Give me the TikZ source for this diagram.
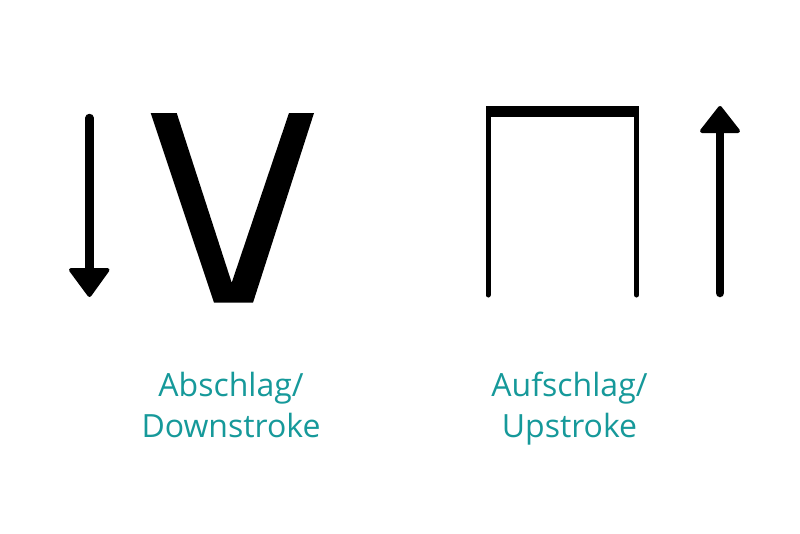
\documentclass[tikz,border=0pt]{standalone}
\usepackage{fontspec}
\setmainfont{Open Sans}
\usepackage{tikz}
\usetikzlibrary{positioning}
\definecolor{stroketeal}{RGB}{22,153,154}

\tikzset{
  bowshaft/.style={line width=8.5pt, line cap=round},
  bowhead/.style={line width=4pt, line join=round},
  bowleg/.style={line width=5pt, line cap=round},
  bowlabel/.style={text=stroketeal, font=\fontsize{32}{41}\selectfont, align=center, inner sep=0pt, anchor=north}
}

\begin{document}
\begin{tikzpicture}[x=1pt,y=-1pt]
\useasboundingbox (0,0) rectangle (800,533);

%Downstroke arrow
\coordinate (downtop) at (89.5,118);
\coordinate (downbase) at (89.5,272);
\draw[bowshaft] (downtop) -- (downbase);
\filldraw[bowhead] (71,270) -- (107.5,270) -- (89.5,295) -- cycle;

%V sign
\fill (150.7,113) -- (176.7,113) -- (231.7,282.7) -- (289,113) -- (314,113)
 -- (253,302.7) -- (214,302.7) -- cycle;

%Upstroke bracket
\fill (486,106) rectangle (639,116.5);
\coordinate (legleft) at (488,112);
\coordinate (legright) at (636.5,112);
\draw[bowleg] (legleft) -- ++(0,183);
\draw[bowleg] (legright) -- ++(0,183);

%Upstroke arrow
\coordinate (upbottom) at (720,293);
\coordinate (upbase) at (720,131);
\draw[bowshaft] (upbottom) -- (upbase);
\filldraw[bowhead] (702,131) -- (738,131) -- (720,108) -- cycle;

%Labels
\node[bowlabel] (downlabel) at (231,367.3) {Abschlag/\strut\\Downstroke\strut};
\node[bowlabel] (uplabel) at (569.5,367.3) {Aufschlag/\strut\\Upstroke\strut};

\end{tikzpicture}
\end{document}
